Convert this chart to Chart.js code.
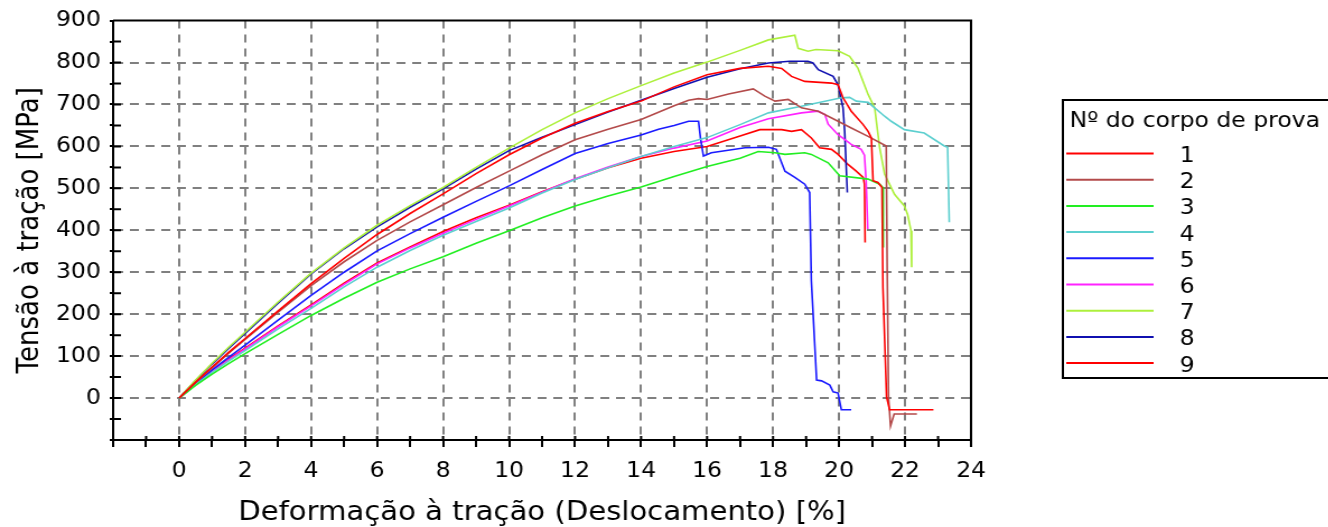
<!DOCTYPE html>
<html>
<head>
<meta charset="utf-8">
<script src="https://cdn.jsdelivr.net/npm/chart.js@4.4.1/dist/chart.umd.min.js"></script>
<style>
    html, body { margin: 0; padding: 0; background: #fff; overflow: hidden; }
    /* the reference is drawn a bit wider than tall, so the whole chart is stretched */
    #wrap { width: 1186px; height: 527px; transform: scaleX(1.12); transform-origin: 0 0; }
</style>
</head>
<body>
<div id="wrap"><canvas id="graph"></canvas></div>
<script>
'use strict'

// deformação [%] / tensão [MPa] por corpo de prova
const strain1 = [0, 0.5, 1, 1.5, 2, 3, 4, 5, 6, 7, 8, 9, 10, 11, 12, 13, 14, 15, 16, 17, 17.86, 18.26, 18.56, 18.96, 19.77, 19.97, 20.12, 20.37, 20.73, 20.88, 20.98, 21.03, 21.18, 21.3, 21.33, 21.44, 21.53, 22.86];
const stress1 = [0, 38, 74, 109, 142, 208, 273, 333, 390, 440, 487, 535, 580, 620, 655, 683, 708, 742, 771, 786, 791, 786, 767, 755, 751, 747, 716, 684, 652, 636, 620, 518, 514, 502, 263, 3, -28, -28];

const strain2 = [0, 0.5, 1, 1.5, 2, 3, 4, 5, 6, 7, 8, 9, 10, 11, 12, 13, 14, 15, 15.44, 15.74, 16, 16.65, 17.4, 17.75, 18.06, 18.46, 18.86, 19.37, 19.67, 19.97, 20.37, 20.88, 21.43, 21.46, 21.5, 21.56, 21.67, 22.36];
const stress2 = [0, 37, 72, 107, 140, 205, 268, 325, 376, 420, 461, 502, 541, 580, 616, 641, 664, 697, 710, 714, 712, 725, 737, 720, 708, 712, 692, 684, 672, 660, 644, 624, 601, 300, 0, -67, -38, -38];

const strain3 = [0, 0.5, 1, 1.5, 2, 3, 4, 5, 6, 7, 8, 9, 10, 11, 12, 13, 14, 15, 16, 17, 17.55, 18.06, 18.36, 18.96, 19.16, 19.67, 20.02, 20.88, 21.23, 21.33, 21.34];
const stress3 = [0, 30, 57, 82, 106, 152, 197, 238, 276, 308, 337, 369, 399, 430, 458, 482, 503, 528, 552, 572, 588, 585, 581, 585, 581, 561, 530, 522, 510, 502, 359];

const strain4 = [0, 0.5, 1, 1.5, 2, 3, 4, 5, 6, 7, 8, 9, 10, 11, 12, 13, 14, 15, 16, 17, 17.86, 18.86, 20.07, 20.32, 20.52, 20.88, 21.38, 21.58, 21.98, 22.58, 23.19, 23.29, 23.34];
const stress4 = [0, 32, 61, 88, 113, 165, 214, 265, 312, 352, 388, 421, 453, 489, 521, 549, 576, 600, 621, 652, 680, 696, 716, 717, 708, 705, 672, 660, 640, 632, 601, 598, 419];

const strain5 = [0, 0.5, 1, 1.5, 2, 3, 4, 5, 6, 7, 8, 9, 10, 11, 12, 13, 14, 14.53, 15, 15.44, 15.74, 15.8, 15.89, 16.13, 17.15, 17.86, 18.1, 18.36, 18.66, 18.96, 19.11, 19.16, 19.32, 19.47, 19.72, 19.82, 19.97, 20.07, 20.37];
const stress5 = [0, 35, 67, 97, 126, 186, 245, 300, 351, 392, 431, 469, 506, 545, 583, 607, 627, 641, 650, 660, 660, 620, 577, 585, 597, 598, 593, 541, 526, 510, 490, 280, 43, 41, 31, 15, 12, -28, -28];

const strain6 = [0, 0.5, 1, 1.5, 2, 3, 4, 5, 6, 7, 8, 9, 10, 11, 12, 13, 14, 15, 16, 17, 17.86, 18.86, 19.36, 19.57, 19.67, 19.97, 20.37, 20.67, 20.77, 20.82, 20.87];
const stress6 = [0, 33, 63, 91, 117, 170, 220, 271, 320, 358, 393, 426, 458, 491, 523, 551, 576, 596, 613, 645, 666, 680, 684, 676, 653, 628, 605, 593, 579, 518, 403];

const strain7 = [0, 0.5, 1, 1.5, 2, 3, 4, 5, 6, 7, 8, 9, 10, 11, 12, 13, 14, 15, 16, 17, 17.86, 18.66, 18.76, 19.06, 19.3, 19.97, 20.32, 20.57, 20.88, 21.08, 21.23, 21.38, 21.68, 21.98, 22.08, 22.18, 22.2];
const stress7 = [0, 43, 83, 121, 157, 229, 298, 358, 412, 459, 502, 550, 596, 640, 680, 714, 745, 775, 801, 829, 854, 865, 834, 827, 831, 828, 815, 787, 724, 692, 597, 534, 486, 458, 437, 399, 312];

const strain8 = [0, 0.5, 1, 1.5, 2, 3, 4, 5, 6, 7, 8, 9, 10, 11, 12, 13, 14, 15, 16, 17, 17.86, 18.5, 19.06, 19.21, 19.37, 19.82, 19.97, 20.12, 20.17, 20.25];
const stress8 = [0, 42, 81, 118, 154, 226, 296, 356, 408, 455, 499, 546, 590, 622, 652, 682, 710, 738, 765, 785, 799, 803, 803, 799, 783, 767, 747, 692, 636, 490];

const strain9 = [0, 0.5, 1, 1.5, 2, 3, 4, 5, 6, 7, 8, 9, 10, 11, 12, 13, 14, 15, 16, 17, 17.6, 18.26, 18.56, 18.86, 19.16, 19.41, 19.77, 19.97, 20.27, 20.52, 20.73, 20.77, 20.79];
const stress9 = [0, 34, 65, 93, 119, 172, 222, 274, 322, 360, 397, 430, 460, 492, 522, 549, 572, 588, 600, 625, 640, 640, 636, 640, 620, 597, 593, 581, 557, 541, 526, 510, 371];

const labels = ['1', '2', '3', '4', '5', '6', '7', '8', '9'];
const strains = [strain1, strain2, strain3, strain4, strain5, strain6, strain7, strain8, strain9];
const stresses = [stress1, stress2, stress3, stress4, stress5, stress6, stress7, stress8, stress9];
const colors = ['#ff0000', '#b34a4a', '#22ee22', '#5ccfcf', '#1a1aff', '#ff22ff', '#adf03c', '#1010b0', '#ff0000'];

const legendTitle = 'Nº do corpo de prova';
const FONT = "'DejaVu Sans', Verdana, sans-serif";

// top/right frame, inner tick marks and the boxed legend
const framePlugin = {
    id: 'frame',
    afterDraw(chart) {
        const { ctx, chartArea: a, scales } = chart;
        ctx.save();
        ctx.strokeStyle = '#000';
        ctx.lineWidth = 2;
        ctx.beginPath();
        ctx.moveTo(a.left, a.top);
        ctx.lineTo(a.right, a.top);
        ctx.lineTo(a.right, a.bottom);
        scales.y.ticks.forEach(t => {
            const py = scales.y.getPixelForValue(t.value);
            ctx.moveTo(a.left, py);
            ctx.lineTo(a.left + 7, py);
        });
        scales.x.ticks.forEach(t => {
            const px = scales.x.getPixelForValue(t.value);
            ctx.moveTo(px, a.bottom);
            ctx.lineTo(px, a.bottom - 4);
        });
        ctx.stroke();

        // legend
        ctx.strokeRect(949, 100, 400, 278);
        ctx.fillStyle = '#000';
        ctx.font = '21px ' + FONT;
        ctx.textBaseline = 'middle';
        ctx.textAlign = 'left';
        ctx.fillText(legendTitle, 955, 122);
        ctx.textAlign = 'center';
        chart.data.datasets.forEach((ds, i) => {
            const ly = 153.5 + i * 26.2;
            ctx.strokeStyle = ds.borderColor;
            ctx.beginPath();
            ctx.moveTo(952, ly);
            ctx.lineTo(1030, ly);
            ctx.stroke();
            ctx.fillText(ds.label, 1060, ly + 3);
        });
        ctx.restore();
    }
};

const gridColor = '#808080';
const clear = 'rgba(0,0,0,0)';

let ctx = document.getElementById('graph');
new Chart(ctx, {
    type: 'line',
    data: {
        datasets: labels.map((lab, i) => ({
            label: lab,
            data: strains[i].map((x, j) => ({ x: x, y: stresses[i][j] })),
            borderColor: colors[i],
            backgroundColor: colors[i],
            borderWidth: 1.6,
            pointRadius: 0,
            tension: 0,
            fill: false
        }))
    },
    options: {
        responsive: true,
        maintainAspectRatio: false,
        animation: false,
        layout: { padding: { top: 19, right: 319, left: 0, bottom: 0 } },
        plugins: {
            legend: { display: false },
            tooltip: { enabled: false }
        },
        scales: {
            x: {
                type: 'linear',
                min: -2,
                max: 24,
                afterFit: s => { s.height = 87; },
                ticks: {
                    stepSize: 1,
                    maxTicksLimit: 100,
                    autoSkip: false,
                    maxRotation: 0,
                    padding: 12,
                    color: '#000',
                    font: { family: FONT, size: 21 },
                    callback: v => (v >= 0 && v % 2 === 0) ? String(v) : ''
                },
                grid: {
                    color: c => (c.tick && c.tick.value >= 0 && c.tick.value < 24 && c.tick.value % 2 === 0) ? gridColor : clear,
                    lineWidth: 2,
                    tickColor: '#000',
                    tickWidth: 2,
                    tickLength: 7
                },
                border: { color: '#000', width: 2, dash: [8, 6] },
                title: {
                    display: true,
                    text: 'Deformação à tração (Deslocamento) [%]',
                    color: '#000',
                    font: { family: FONT, size: 26 },
                    padding: { top: 0, bottom: -2 }
                }
            },
            y: {
                min: -100,
                max: 900,
                afterFit: s => { s.width = 101; },
                ticks: {
                    stepSize: 50,
                    maxTicksLimit: 100,
                    autoSkip: false,
                    padding: 8,
                    color: '#000',
                    font: { family: FONT, size: 21 },
                    callback: v => (v >= 0 && v % 100 === 0) ? String(v) : ''
                },
                grid: {
                    color: c => (c.tick && c.tick.value >= 0 && c.tick.value < 900 && c.tick.value % 100 === 0) ? gridColor : clear,
                    lineWidth: 2,
                    tickColor: '#000',
                    tickWidth: 2,
                    tickLength: 3
                },
                border: { color: '#000', width: 2, dash: [8, 6] },
                title: {
                    display: true,
                    text: 'Tensão à tração [MPa]',
                    color: '#000',
                    font: { family: FONT, size: 26 },
                    padding: { top: 12, bottom: 0 }
                }
            }
        }
    },
    plugins: [framePlugin]
});
</script>
</body>
</html>
